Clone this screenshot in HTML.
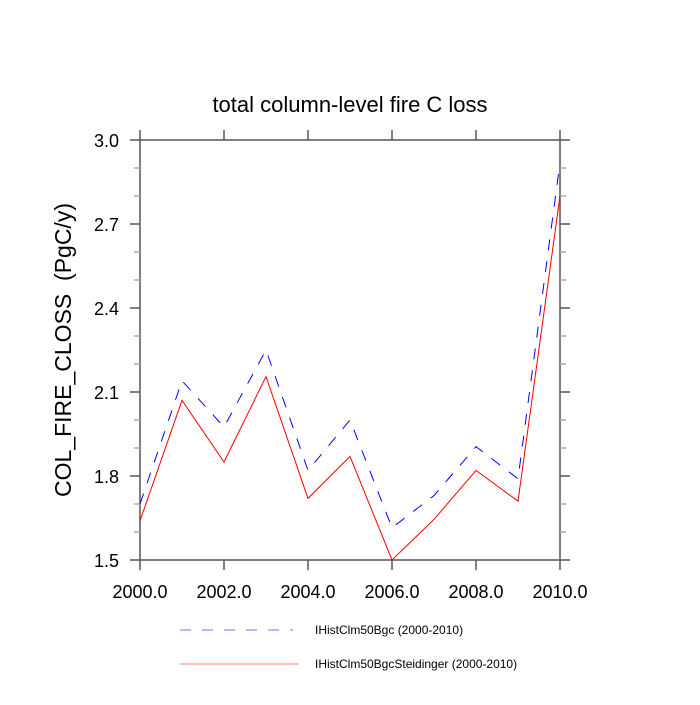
<!DOCTYPE html>
<html><head><meta charset="utf-8"><style>
body{margin:0;background:#fff}
svg text{font-family:"Liberation Sans",sans-serif;fill:#000;white-space:pre}
</style></head><body>
<svg id="chart" width="700" height="700" viewBox="0 0 700 700">
<text x="350" y="112" text-anchor="middle" font-size="22">total column-level fire C loss</text>
<text transform="translate(71,350) rotate(-90)" text-anchor="middle" font-size="23" xml:space="preserve">COL_FIRE_CLOSS  (PgC/y)</text>
<g id="axes"></g>
<g id="series"></g>
<g>
<line x1="180" y1="630" x2="293" y2="630" stroke="#7070ff" stroke-width="1" stroke-dasharray="11,11"/>
<text x="315" y="634" font-size="12">IHistClm50Bgc (2000-2010)</text>
<line x1="180" y1="664" x2="299" y2="664" stroke="#ff8080" stroke-width="1"/>
<text x="315" y="668" font-size="12">IHistClm50BgcSteidinger (2000-2010)</text>
</g>
</svg>
<script>
const years=[2000,2001,2002,2003,2004,2005,2006,2007,2008,2009,2010];
const bgcValues=[1.70,2.14,1.975,2.25,1.82,2.00,1.615,1.73,1.905,1.79,2.92];
const steidingerValues=[1.64,2.07,1.85,2.155,1.72,1.87,1.50,1.645,1.82,1.71,2.80];
const yTicks=[1.5,1.8,2.1,2.4,2.7,3.0];
const xTicks=[2000,2002,2004,2006,2008,2010];
const L=140,R=560,T=140,B=560;
const xs=v=>L+(v-2000)/10*(R-L);
const ys=v=>B-(v-1.5)/1.5*(B-T);
const NS='http://www.w3.org/2000/svg';
function mk(tag,attrs,parent){const e=document.createElementNS(NS,tag);for(const k in attrs)e.setAttribute(k,attrs[k]);parent.appendChild(e);return e;}
const ax=document.getElementById('axes');
const frame=mk('rect',{x:L,y:T,width:R-L,height:B-T,fill:'none',stroke:'#555','stroke-width':1.5},ax);


const tc='#555';
for(let v=1.5;v<=3.0001;v+=0.1){
  const y=ys(v);
  const major=yTicks.some(t=>Math.abs(t-v)<1e-6);
  const len=major?10:6;
  mk('line',{x1:L-len,y1:y,x2:L,y2:y,stroke:major?tc:'#aaa','stroke-width':1.5},ax);
  mk('line',{x1:R,y1:y,x2:R+len,y2:y,stroke:major?tc:'#aaa','stroke-width':1.5},ax);
}
yTicks.forEach(t=>{
  const e=mk('text',{x:L-21,y:ys(t)+7,'text-anchor':'end','font-size':18},ax);
  e.textContent=t.toFixed(1);
  
  
});
xTicks.forEach(t=>{
  const x=xs(t);
  mk('line',{x1:x,y1:B,x2:x,y2:B+10,stroke:tc,'stroke-width':1.5},ax);
  mk('line',{x1:x,y1:T-10,x2:x,y2:T,stroke:tc,'stroke-width':1.5},ax);
  const e=mk('text',{x:x,y:B+38,'text-anchor':'middle','font-size':18},ax);
  e.textContent=t.toFixed(1);
  
  
});
const sg=document.getElementById('series');
function pts(vals){return vals.map((v,i)=>xs(years[i])+','+ys(v)).join(' ');}
const l1=mk('polyline',{points:pts(bgcValues),fill:'none',stroke:'#0000ff','stroke-width':1,'stroke-dasharray':'11,11'},sg);


const l2=mk('polyline',{points:pts(steidingerValues),fill:'none',stroke:'#ff0000','stroke-width':1},sg);


</script>
</body></html>
